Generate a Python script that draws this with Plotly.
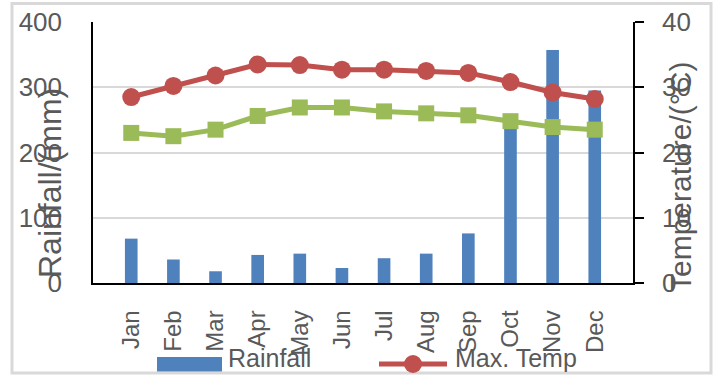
import plotly.graph_objects as go

months = ["Jan", "Feb", "Mar", "Apr", "May", "Jun", "Jul", "Aug", "Sep", "Oct", "Nov", "Dec"]
rainfall = [68, 36, 18, 43, 45, 23, 38, 45, 76, 245, 357, 295]
max_temp = [28.5, 30.2, 31.8, 33.5, 33.4, 32.7, 32.7, 32.5, 32.2, 30.8, 29.2, 28.2]
min_temp = [23.0, 22.5, 23.5, 25.6, 26.9, 26.9, 26.3, 26.0, 25.7, 24.8, 23.9, 23.5]

BLUE = "#4F81BD"
RED = "#C0504D"
GREEN = "#9BBB59"
GRAY = "#595959"
FONT = "Liberation Sans, Arial, sans-serif"

W, H = 717, 376
L, R, T, B = 93, 84, 22, 93
PW, PH = W - L - R, H - T - B


def px(x):
    return (x - L) / PW


def py(y):
    return (H - B - y) / PH


fig = go.Figure()
fig.add_trace(go.Bar(x=months, y=rainfall, name="Rainfall", marker_color=BLUE,
                     marker_line_width=0, yaxis="y", showlegend=False))
fig.add_trace(go.Scatter(x=months, y=max_temp, name="Max. Temp", mode="lines+markers",
                         line=dict(color=RED, width=5),
                         marker=dict(symbol="circle", size=18, color=RED),
                         yaxis="y2", showlegend=False))
fig.add_trace(go.Scatter(x=months, y=min_temp, name="Min. Temp", mode="lines+markers",
                         line=dict(color=GREEN, width=5),
                         marker=dict(symbol="square", size=16, color=GREEN),
                         yaxis="y2", showlegend=False))

LEG_Y = 364
shapes = [
    # figure border
    dict(type="rect", xref="paper", yref="paper", x0=px(12), x1=px(711), y0=py(373), y1=py(3.5),
         line=dict(color="#D9D9D9", width=3), layer="below"),
    # legend: Rainfall swatch
    dict(type="rect", xref="paper", yref="paper", x0=px(157), x1=px(222), y0=py(357), y1=py(371.5),
         fillcolor=BLUE, line=dict(width=0)),
    # legend: Max Temp line and marker
    dict(type="line", xref="paper", yref="paper", x0=px(379), x1=px(447), y0=py(LEG_Y), y1=py(LEG_Y),
         line=dict(color=RED, width=5)),
    dict(type="circle", xref="paper", yref="paper", x0=px(413 - 9), x1=px(413 + 9),
         y0=py(LEG_Y + 9), y1=py(LEG_Y - 9), fillcolor=RED, line=dict(width=0)),
]

annotations = [
    dict(text="Rainfall/(mm)", xref="paper", yref="paper", x=px(50), y=py(183),
         textangle=-90, showarrow=False, font=dict(family=FONT, size=32, color=GRAY),
         xanchor="center", yanchor="middle"),
    dict(text="Temperature/(°C)", xref="paper", yref="paper", x=px(680), y=py(177),
         textangle=-90, showarrow=False, font=dict(family=FONT, size=30, color=GRAY),
         xanchor="center", yanchor="middle"),
    dict(text="Rainfall", xref="paper", yref="paper", x=px(226), y=py(358),
         showarrow=False, font=dict(family=FONT, size=25, color=GRAY),
         xanchor="left", yanchor="middle"),
    dict(text="Max. Temp", xref="paper", yref="paper", x=px(453), y=py(358),
         showarrow=False, font=dict(family=FONT, size=25, color=GRAY),
         xanchor="left", yanchor="middle"),
]

fig.update_layout(
    width=W, height=H,
    margin=dict(l=L, r=R, t=T, b=B, pad=0),
    paper_bgcolor="white", plot_bgcolor="white",
    bargap=0.7,
    showlegend=False,
    xaxis=dict(tickangle=-90, tickfont=dict(family=FONT, size=24, color=GRAY),
               showline=True, linecolor="black", linewidth=1.5, ticks="",
               showgrid=False, ticklabelstandoff=16, automargin=False),
    yaxis=dict(range=[0, 400], tickvals=[0, 100, 200, 300, 400],
               tickfont=dict(family=FONT, size=26, color=GRAY),
               showline=True, linecolor="black", linewidth=1.5, ticks="",
               showgrid=True, gridcolor="#D9D9D9", gridwidth=1.5,
               zeroline=False, ticklabelstandoff=24, automargin=False),
    yaxis2=dict(range=[0, 40], tickvals=[0, 10, 20, 30, 40], overlaying="y", side="right",
                tickfont=dict(family=FONT, size=26, color=GRAY),
                showline=True, linecolor="black", linewidth=1.5,
                ticks="outside", ticklen=9, tickcolor="black", tickwidth=1.5,
                showgrid=False, zeroline=False, ticklabelstandoff=13, automargin=False),
    shapes=shapes,
    annotations=annotations,
)

fig.write_html("out.html", config={"displayModeBar": False},
               post_script="document.body.style.margin='0';document.body.style.overflow='hidden';")
